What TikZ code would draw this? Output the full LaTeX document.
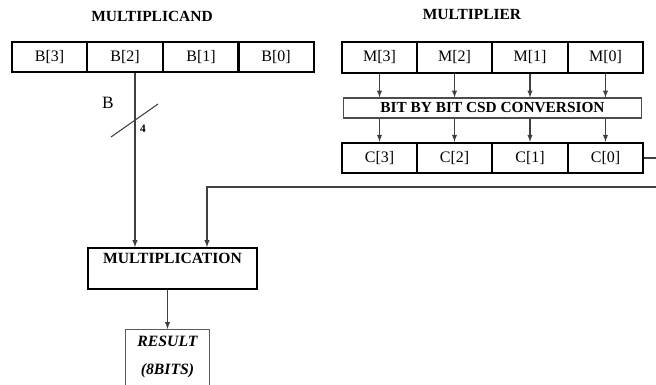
\documentclass[tikz,border=0pt]{standalone}
\usepackage{fontspec}
\setmainfont{Liberation Serif}

\tikzset{
	title/.style={font=\fontsize{11.6}{13}\selectfont\bfseries},
	cell/.style={draw, line width=1.3pt, minimum width=56.5pt, minimum height=23pt, inner sep=0pt, font=\fontsize{12}{14}\selectfont},
	csdbox/.style={draw=black!70, line width=0.8pt, minimum width=224pt, minimum height=15pt, inner sep=0pt, font=\fontsize{11.5}{13}\selectfont\bfseries},
	multbox/.style={draw, line width=1.5pt, minimum width=126.5pt, minimum height=30.5pt, inner sep=0pt, text depth=15pt, font=\fontsize{11.7}{13}\selectfont\bfseries},
	resbox/.style={draw=black!65, line width=0.9pt, minimum width=63.5pt, inner xsep=2pt, inner ysep=5pt, align=center, font=\fontsize{11.8}{14}\selectfont\bfseries\itshape},
	wire/.style={draw=black!75, line width=0.8pt}
}

\begin{document}
\begin{tikzpicture}[>=latex, x=0.75pt, y=-0.75pt]
	\useasboundingbox (0,0) rectangle (656,385);
	\clip (0,0) rectangle (656,385);
	% titles
	\node[title] (tcand) at (152,16) {MULTIPLICAND};
	\node[title] (tplier) at (472,15) {MULTIPLIER};
	% multiplicand register
	\foreach \i/\x in {3/49.5,2/125,1/201,0/276}
		\node[cell] (b\i) at (\x,57) {B[\i]};
	% multiplier and csd registers
	\foreach \i/\x in {3/379.5,2/454.5,1/530,0/605.5} {
		\node[cell] (m\i) at (\x,57.5) {M[\i]};
		\node[cell] (c\i) at (\x,158) {C[\i]};
	}
	\node[csdbox] (csd) at (492.5,108) {BIT BY BIT CSD CONVERSION};
	\foreach \i in {3,2,1,0} {
		\draw [wire, ->] (m\i.south) -- (m\i.south |- csd.north);
		\draw [wire, ->] (c\i.north |- csd.south) -- (c\i.north);
	}
	% multiplication and result
	\node[multbox] (mult) at (172.5,268.5) {MULTIPLICATION};
	\node[resbox, anchor=north] (res) at (167.5,329) {RESULT\\[7pt](8BITS)\\[10pt]\strut};
	\draw [wire, ->] (mult.south -| res.north) -- (res.north);
	% bus from multiplicand
	\coordinate (btap) at ([xshift=7.5pt]b2.south);
	\coordinate (slash) at (135,120);
	\draw [wire, ->] (btap) -- (btap |- mult.north);
	\draw [wire] ([shift={(-24,17)}]slash) -- ([shift={(23,-16)}]slash);
	\node[font=\fontsize{13}{15}\selectfont] (bname) at (108,103) {B};
	\node[font=\fontsize{8.5}{10}\selectfont\bfseries] (bwidth) at (143,129) {4};
	% csd output back to multiplication
	\coordinate (fbr) at (664,158);
	\coordinate (fbl) at (207,187);
	\draw [wire, ->] (c0.east) -- (fbr) -- (fbr |- fbl) -- (fbl) -- (fbl |- mult.north);
\end{tikzpicture}
\end{document}
